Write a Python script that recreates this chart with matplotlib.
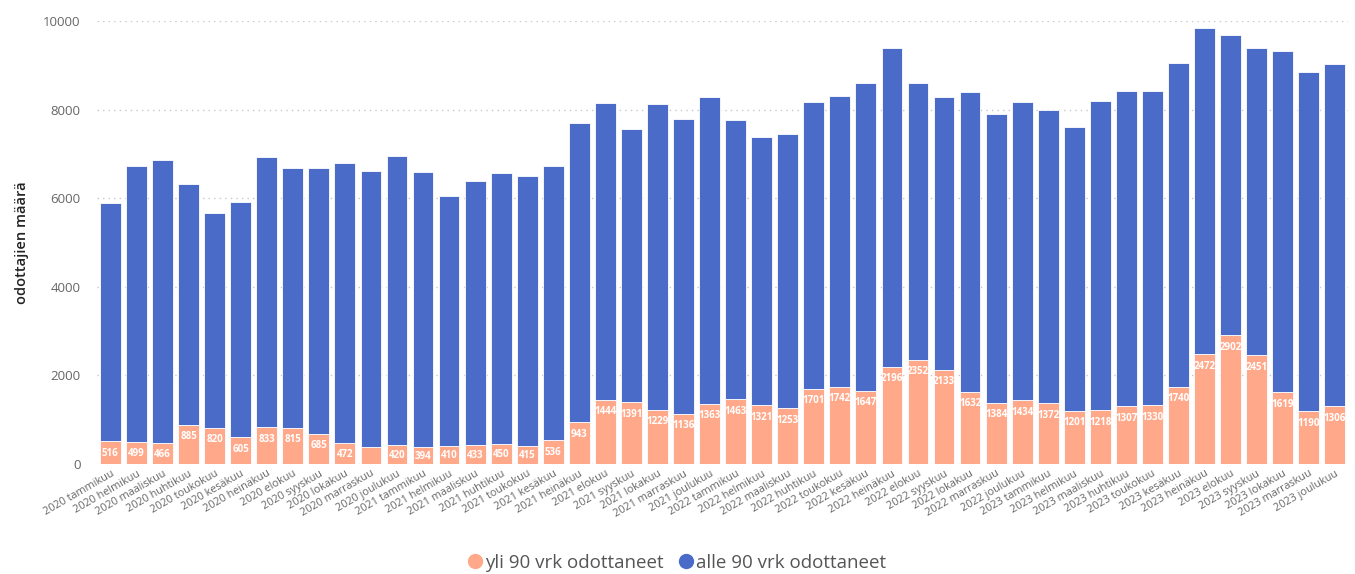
import matplotlib
matplotlib.use("Agg")
import matplotlib.pyplot as plt
from matplotlib.lines import Line2D

plt.rcParams['font.family'] = ['Open Sans', 'DejaVu Sans']

months = ["tammikuu", "helmikuu", "maaliskuu", "huhtikuu", "toukokuu", "kesäkuu",
          "heinäkuu", "elokuu", "syyskuu", "lokakuu", "marraskuu", "joulukuu"]
years = [2020, 2021, 2022, 2023]
categories = [f"{y} {m}" for y in years for m in months]

# Waiting over 90 days
over_90 = [516, 499, 466, 885, 820, 605, 833, 815, 685, 472, 388, 420,
           394, 410, 433, 450, 415, 536, 943, 1444, 1391, 1229, 1136, 1363,
           1463, 1321, 1253, 1701, 1742, 1647, 2196, 2352, 2133, 1632, 1384, 1434,
           1372, 1201, 1218, 1307, 1330, 1740, 2472, 2902, 2451, 1619, 1190, 1306]

# Total waiting
total = [5890, 6720, 6870, 6320, 5670, 5920, 6920, 6680, 6690, 6790, 6610, 6960,
         6600, 6050, 6390, 6570, 6510, 6720, 7700, 8150, 7560, 8120, 7780, 8280,
         7770, 7380, 7450, 8180, 8300, 8590, 9390, 8590, 8280, 8390, 7900, 8170,
         7980, 7600, 8190, 8410, 8420, 9050, 9840, 9680, 9400, 9330, 8840, 9040]

# Waiting under 90 days
under_90 = [t - o for t, o in zip(total, over_90)]

# Labels hidden where the segment is too crowded
hidden_labels = {"2020 marraskuu"}

ORANGE = "#FFA98A"
BLUE = "#4A6BC8"
GRID = "#C8C8C8"
TEXT = "#666666"

W, H = 1355, 574
fig = plt.figure(figsize=(W / 100, H / 100), dpi=100)
ax = fig.add_axes([97.4 / W, 1 - 464 / H, (1347.8 - 97.4) / W, 443 / H])

x = list(range(len(categories)))
ax.bar(x, over_90, width=0.8, color=ORANGE, edgecolor="white", linewidth=0.6, zorder=3)
ax.bar(x, under_90, bottom=over_90, width=0.8, color=BLUE, edgecolor="white",
       linewidth=0.6, zorder=3)

for xi, cat, v in zip(x, categories, over_90):
    if cat in hidden_labels:
        continue
    y = max(v - 270, v / 2 - 20)
    ax.text(xi, y, f"{v}", ha="center", va="center", color="white",
            fontsize=7, fontweight="bold", zorder=4)

ax.set_xlim(-0.5, len(categories) - 0.5)
ax.set_ylim(0, 10000)
ax.set_yticks(range(0, 10001, 2000))
ax.yaxis.grid(True, linestyle=(0, (1, 3)), color=GRID, linewidth=1.0, zorder=0)
ax.set_axisbelow(True)
for s in ax.spines.values():
    s.set_visible(False)
ax.tick_params(axis="both", length=0)
ax.tick_params(axis="y", labelsize=9.5, labelcolor=TEXT, pad=12)

ax.set_xticks(x)
ax.set_xticklabels(categories, rotation=30, ha="right", rotation_mode="anchor",
                   fontsize=7.8, color=TEXT)
ax.tick_params(axis="x", pad=3)

ax.set_ylabel("odottajien määrä", fontsize=10.5, color="#222222",
              fontweight="semibold", labelpad=10)

handles = [
    Line2D([], [], marker="o", linestyle="", markersize=10,
           markerfacecolor=ORANGE, markeredgecolor=ORANGE, label="yli 90 vrk odottaneet"),
    Line2D([], [], marker="o", linestyle="", markersize=10,
           markerfacecolor=BLUE, markeredgecolor=BLUE, label="alle 90 vrk odottaneet"),
]
leg = fig.legend(handles=handles, loc="center", bbox_to_anchor=(676 / W, 1 - 563 / H),
                 ncol=2, frameon=False, fontsize=13.5, handletextpad=0.05,
                 columnspacing=0.7, handlelength=1.0)
for t in leg.get_texts():
    t.set_color("#555555")

fig.savefig("out.png", dpi=100)
